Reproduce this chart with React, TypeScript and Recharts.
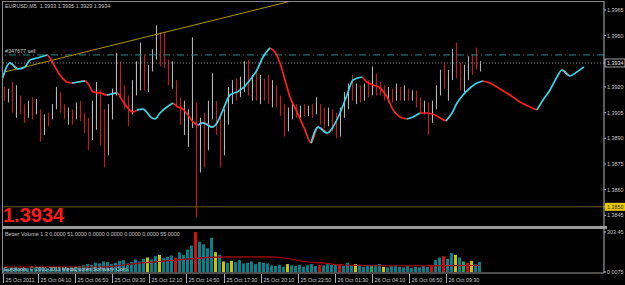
import { ComposedChart, Bar, Line, XAxis, YAxis, ReferenceLine } from 'recharts';

// EURUSD M5 - every candle below stands for ~3-4 real bars of the screenshot
const candleOpen = [
  1.3917, 1.3914, 1.3921, 1.3907, 1.3914, 1.3907, 1.3903, 1.3911, 1.3905, 1.3905,
  1.3893, 1.3903, 1.3902, 1.3909, 1.3915, 1.3909, 1.3902, 1.3905, 1.3903, 1.391,
  1.3903, 1.39, 1.389, 1.3901, 1.3917, 1.3895, 1.3883, 1.3904, 1.3918, 1.3933,
  1.3917, 1.3912, 1.3905, 1.3918, 1.393, 1.3936, 1.3921, 1.3931, 1.3939, 1.395,
  1.3947, 1.3933, 1.3923, 1.3922, 1.3912, 1.39, 1.3886, 1.3901, 1.3908, 1.3883,
  1.3901, 1.3884, 1.3907, 1.391, 1.3898, 1.3883, 1.3901, 1.3915, 1.3923, 1.3915,
  1.3921, 1.3933, 1.3917, 1.3925, 1.3912, 1.3924, 1.3924, 1.3912, 1.3919, 1.3914,
  1.3908, 1.3896, 1.3904, 1.3908, 1.3904, 1.3908, 1.3904, 1.3908, 1.3905, 1.3908,
  1.3907, 1.3898, 1.3905, 1.3904, 1.3894, 1.3905, 1.391, 1.3921, 1.3912, 1.3919,
  1.3914, 1.3921, 1.3917, 1.3925, 1.3919, 1.392, 1.3914, 1.3917, 1.3914, 1.3918,
  1.3915, 1.3918, 1.3915, 1.3917, 1.3912, 1.3905, 1.391, 1.3901, 1.3912, 1.3918,
  1.3931, 1.3915, 1.3925, 1.3942, 1.393, 1.3919, 1.3927, 1.3937, 1.394, 1.3933,
];
const candleHigh = [
  1.392, 1.3919, 1.3923, 1.3921, 1.3915, 1.391, 1.3912, 1.3914, 1.3913, 1.3907,
  1.3904, 1.3905, 1.391, 1.392, 1.3917, 1.391, 1.3908, 1.3907, 1.3911, 1.3912,
  1.3905, 1.3902, 1.3912, 1.3923, 1.3918, 1.3907, 1.391, 1.3919, 1.394, 1.3935,
  1.3921, 1.3915, 1.3924, 1.3935, 1.3946, 1.3939, 1.3933, 1.3942, 1.3956, 1.3952,
  1.3952, 1.3936, 1.3935, 1.3924, 1.3914, 1.3912, 1.3907, 1.3949, 1.3911, 1.3902,
  1.3905, 1.3912, 1.3928, 1.3912, 1.3904, 1.3907, 1.392, 1.3924, 1.3925, 1.3926,
  1.3935, 1.3936, 1.3927, 1.393, 1.3927, 1.3925, 1.3927, 1.3924, 1.3921, 1.3915,
  1.391, 1.3908, 1.3911, 1.391, 1.3909, 1.391, 1.3909, 1.391, 1.3914, 1.391,
  1.3908, 1.3908, 1.3907, 1.3905, 1.3908, 1.3917, 1.3922, 1.3927, 1.3922, 1.3921,
  1.3922, 1.3924, 1.3932, 1.3928, 1.3923, 1.3921, 1.392, 1.3919, 1.3922, 1.392,
  1.3921, 1.3919, 1.3918, 1.3918, 1.3914, 1.3912, 1.3911, 1.3912, 1.3921, 1.393,
  1.3934, 1.393, 1.3942, 1.3946, 1.3934, 1.3933, 1.3938, 1.3939, 1.3943, 1.3935,
];
const candleLow = [
  1.3912, 1.3911, 1.3905, 1.3902, 1.3904, 1.3899, 1.3902, 1.3901, 1.3904, 1.3888,
  1.3892, 1.3897, 1.3901, 1.3907, 1.3905, 1.3901, 1.3898, 1.3898, 1.3901, 1.39,
  1.3893, 1.3883, 1.3889, 1.3895, 1.3886, 1.3873, 1.388, 1.3901, 1.3915, 1.3914,
  1.3907, 1.3897, 1.3904, 1.3915, 1.3918, 1.3918, 1.3917, 1.3929, 1.3936, 1.3932,
  1.3931, 1.3921, 1.3919, 1.3908, 1.3898, 1.3892, 1.3885, 1.3896, 1.3844, 1.387,
  1.3873, 1.3883, 1.3901, 1.3892, 1.3873, 1.388, 1.3898, 1.391, 1.3912, 1.3914,
  1.3917, 1.3915, 1.3912, 1.3912, 1.391, 1.3912, 1.391, 1.3908, 1.3908, 1.3903,
  1.3891, 1.3894, 1.3901, 1.3902, 1.3902, 1.3903, 1.3903, 1.3902, 1.3904, 1.3898,
  1.3896, 1.3897, 1.3894, 1.389, 1.3891, 1.3902, 1.3907, 1.3912, 1.391, 1.3911,
  1.3912, 1.3914, 1.3915, 1.3915, 1.3915, 1.3912, 1.3911, 1.3911, 1.3912, 1.3912,
  1.3912, 1.3912, 1.3912, 1.3908, 1.3905, 1.3904, 1.3892, 1.3899, 1.3907, 1.3915,
  1.3919, 1.3912, 1.3924, 1.3925, 1.3918, 1.3917, 1.3924, 1.3927, 1.393, 1.3929,
];
const candleClose = [
  1.3914, 1.3918, 1.3908, 1.3915, 1.3905, 1.3901, 1.3911, 1.3904, 1.3912, 1.389,
  1.3902, 1.3898, 1.3908, 1.3917, 1.3908, 1.3903, 1.3905, 1.3901, 1.3909, 1.3902,
  1.3896, 1.3886, 1.391, 1.3921, 1.3889, 1.3877, 1.3907, 1.3917, 1.3936, 1.3918,
  1.391, 1.39, 1.3921, 1.3931, 1.3937, 1.3921, 1.393, 1.3939, 1.395, 1.3936,
  1.3933, 1.3924, 1.393, 1.391, 1.3901, 1.3907, 1.3902, 1.3912, 1.3883, 1.3898,
  1.3877, 1.3908, 1.3924, 1.3895, 1.3877, 1.3904, 1.3917, 1.3921, 1.3915, 1.3923,
  1.3931, 1.3918, 1.3924, 1.3915, 1.3924, 1.3915, 1.3914, 1.3921, 1.391, 1.3905,
  1.3895, 1.3905, 1.3908, 1.3904, 1.3907, 1.3904, 1.3907, 1.3904, 1.3911, 1.3901,
  1.3898, 1.3907, 1.3896, 1.3893, 1.3907, 1.3914, 1.392, 1.3915, 1.3919, 1.3912,
  1.3921, 1.3915, 1.3927, 1.3917, 1.3918, 1.3914, 1.3918, 1.3912, 1.3919, 1.3914,
  1.3919, 1.3914, 1.3917, 1.391, 1.3907, 1.3911, 1.3898, 1.391, 1.3918, 1.3927,
  1.3922, 1.3927, 1.3939, 1.3929, 1.3921, 1.393, 1.3936, 1.393, 1.3932, 1.3934,
];

// smoothed trend line, x in candle units; u = cyan (up), d = red (down) per segment
const trendX = [
  -0.5, 1.5, 3.5, 5.25, 6.5, 8.25, 10.75, 11.5, 12.75, 14,
  15.75, 17, 20.25, 21.5, 22.25, 24, 25.75, 28.25, 29.5, 30.75,
  32.25, 33.25, 34.75, 37, 37.75, 39, 40.75, 42.25, 43.5, 44.75,
  46, 47.25, 48.5, 49.75, 52, 53.25, 54.75, 56.5, 58.25, 59.75,
  61.5, 63.25, 64.75, 66.5, 67.75, 69, 70.25, 71.5, 73.25, 75.25,
  76.75, 78.5, 80.75, 82.25, 84, 85.75, 87.25, 89.5, 90.75, 92.25,
  94, 95.75, 97.25, 99, 100.75, 102.25, 104, 105.75, 107.75, 109,
  110.5, 112, 113.25, 114.75, 116.5, 118.25, 119.75, 121.5, 124, 126.5,
  129, 131.5, 133.25, 134.75, 136.5, 138.25, 139.5, 141.5, 143.25, 145,
];
const trendY = [
  1.39241, 1.3934, 1.39305, 1.39317, 1.39358, 1.39369, 1.39387, 1.39369, 1.39317, 1.3927,
  1.39229, 1.39223, 1.39235, 1.392, 1.39171, 1.39165, 1.39153, 1.39165, 1.39124, 1.39083,
  1.39054, 1.39066, 1.39071, 1.39019, 1.39013, 1.39048, 1.39083, 1.39106, 1.39083, 1.39071,
  1.39036, 1.38996, 1.38978, 1.3899, 1.38966, 1.3899, 1.39066, 1.39153, 1.39171, 1.39194,
  1.39241, 1.39299, 1.39375, 1.39428, 1.39404, 1.3934, 1.39241, 1.39142, 1.39054, 1.38949,
  1.38873, 1.38966, 1.38931, 1.38966, 1.39048, 1.39153, 1.39241, 1.39258, 1.39229, 1.39212,
  1.39194, 1.39142, 1.39066, 1.39025, 1.39013, 1.39025, 1.39048, 1.39048, 1.39036, 1.39019,
  1.39001, 1.39048, 1.39106, 1.39153, 1.39194, 1.39223, 1.39235, 1.39223, 1.39188, 1.39153,
  1.39112, 1.39083, 1.39066, 1.39124, 1.39182, 1.39258, 1.39299, 1.39264, 1.39288, 1.39317,
];
const trendSide =
  'uduuuudddd' + 'dudddduddd' + 'duuuuuuddd' + 'dduduuuuuu' + 'uuuddddddd' +
  'uduuuuuddd' + 'dddduudddd' + 'uuuuuudddd' + 'dduuuuduuu';

const trendStart = { i: 0.25, p: 1.39288 };
const trendEnd = { i: 71.5, p: 1.397 };

const priceTicks = [1.3845, 1.385, 1.386, 1.3875, 1.389, 1.3905, 1.392, 1.3934, 1.395, 1.3965];
const stopPrice = 1.385;
const sellPrice = 1.39387;
const sellLabel = '#347677 sell';

const timeLabels = [
  '25 Oct 2011', '25 Oct 04:10', '25 Oct 06:50', '25 Oct 09:30', '25 Oct 12:10',
  '25 Oct 14:50', '25 Oct 17:30', '25 Oct 20:10', '25 Oct 22:50', '26 Oct 01:30',
  '26 Oct 04:10', '26 Oct 06:50', '26 Oct 09:30',
];
const timeTickIdx = [-0.25, 8.5, 17.75, 27, 36.25, 45.5, 55, 64.25, 73.5, 82.75, 92, 101.25, 110.5];

// Better Volume 1.3
const volumeValues = [
  30, 25, 35, 40, 28, 32, 30, 26, 35, 38, 30, 28, 33, 40, 36, 30, 34, 42, 38, 45,
  50, 60, 55, 70, 65, 80, 75, 60, 70, 85, 90, 65, 75, 95, 80, 100, 110, 95, 120, 130,
  105, 115, 125, 110, 150, 130, 170, 200, 303, 230, 210, 180, 260, 150, 130, 80, 70, 85, 75, 90,
  65, 70, 80, 60, 75, 70, 65, 50, 45, 55, 40, 60, 50, 45, 55, 40, 50, 60, 45, 55,
  50, 65, 55, 55, 60, 45, 70, 50, 60, 55, 40, 50, 45, 55, 60, 40, 35, 45, 50, 40,
  35, 45, 30, 40, 35, 45, 40, 50, 90, 110, 120, 100, 145, 130, 110, 80, 70, 85, 60, 75,
];
// n normal, y churn, g low, r climax
const volumeKinds =
  'nnnnnnnnnn' + 'nnnnnnnnnn' + 'nnnnnnnnnn' + 'nnnnnnynny' + 'nnnrnnnnrn' +
  'nnnynynynn' + 'nnnnnnnnnn' + 'nynnnnnnnr' + 'nnnnrnnnyn' + 'nngnnynnnn' +
  'nnnnnnnrnn' + 'rnnyngrynn';
const volMaX = [0, 24, 34, 43, 49, 55, 66, 70, 76, 80, 84, 102, 119];
const volMaV = [38, 38, 68, 91, 106, 114, 114, 106, 76, 68, 53, 46, 50];
const volTicks = [0.0075, 303.45];
const volHeader = 'Better Volume 1.3 0.0000 51.0000 0.0000 0.0000 0.0000 0.0000 55.0000';

const bullColor = '#bdbdbd';
const bearColor = '#d81616';
const kindColor: Record<string, string> = { n: '#0a7f8a', y: '#c8c400', g: '#1fae55', r: '#d41010' };
const font = '"Liberation Sans", Arial, sans-serif';
const small = 5.4;

const candles = candleOpen.map((o, i) => ({
  i,
  o,
  h: candleHigh[i],
  l: candleLow[i],
  c: candleClose[i],
}));

const trendUp = trendX.map((x, j) => {
  const on = trendSide[j] === 'u' || (j > 0 && trendSide[j - 1] === 'u');
  return { i: x, v: on ? trendY[j] : null };
});
const trendDown = trendX.map((x, j) => {
  const on = (j < trendX.length - 1 && trendSide[j] === 'd') || (j > 0 && trendSide[j - 1] === 'd');
  return { i: x, v: on ? trendY[j] : null };
});

const volData = volumeValues.map((v, i) => ({ i, v, kind: volumeKinds[i] }));
const volMa = volMaX.map((x, j) => ({ i: x, v: volMaV[j] }));

const last = candles[candles.length - 1];

const CandleShape = (props: any) => {
  const { x, y, width, height, payload } = props;
  if (!payload || height == null) return null;
  const top = Math.min(y, y + height);
  const h = Math.abs(height);
  const span = payload.h - payload.l || 1;
  const toY = (p: number) => top + ((payload.h - p) / span) * h;
  const yo = toY(payload.o);
  const yc = toY(payload.c);
  const col = payload.c >= payload.o ? bullColor : bearColor;
  const rx = Math.round(x);
  const cx = rx + width / 2;
  return (
    <g>
      <line x1={cx} x2={cx} y1={top} y2={top + h} stroke={col} strokeWidth={1} />
      <rect x={rx} y={Math.min(yo, yc)} width={width} height={Math.max(1, Math.abs(yc - yo))} fill={col} />
    </g>
  );
};

const VolShape = (props: any) => {
  const { x, y, width, height, payload } = props;
  if (!payload) return null;
  return (
    <rect
      x={Math.round(x)}
      y={Math.min(y, y + height)}
      width={width}
      height={Math.abs(height)}
      fill={kindColor[payload.kind] || kindColor.n}
    />
  );
};

const PriceTick = (props: any) => {
  const { x, y, payload } = props;
  const v = payload.value as number;
  const txt = v.toFixed(4);
  if (Math.abs(v - last.c) < 1e-7) {
    return (
      <g>
        <rect x={x - 2} y={y - 4} width={20} height={8} fill="#000" stroke="#c8c8c8" strokeWidth={0.8} />
        <text x={x} y={y + 2} fill="#e6e6e6" fontSize={small} fontFamily={font}>{txt}</text>
      </g>
    );
  }
  if (Math.abs(v - stopPrice) < 1e-7) {
    return (
      <g>
        <rect x={x - 2} y={y - 4} width={20} height={8} fill="#e8c800" />
        <text x={x} y={y + 2} fill="#3a3000" fontSize={small} fontFamily={font}>{txt}</text>
      </g>
    );
  }
  return <text x={x} y={y + 2} fill="#c8c8c8" fontSize={small} fontFamily={font}>{txt}</text>;
};

const VolTick = (props: any) => {
  const { x, y, payload } = props;
  return <text x={x} y={y + 2} fill="#c8c8c8" fontSize={small} fontFamily={font}>{String(payload.value)}</text>;
};

const TimeTick = (props: any) => {
  const { x, y, payload } = props;
  const label = timeLabels[timeTickIdx.indexOf(payload.value)];
  const px = Math.round(x) + 0.5;
  return (
    <g>
      <line x1={px} x2={px} y1={y + 1} y2={y + 10} stroke="#b0b0b0" strokeWidth={1} />
      <text x={px + 2} y={y + 9} fill="#c8c8c8" fontSize={small} fontFamily={font}>{label}</text>
    </g>
  );
};

export default function App() {
  return (
    <div style={{ position: 'absolute', left: 0, top: 0, width: 625, height: 285, background: '#000', overflow: 'hidden' }}>
      {/* price panel */}
      <div style={{ position: 'absolute', left: 0, top: 0 }}>
        <ComposedChart width={625} height={227} data={candles} margin={{ top: 1, right: 0, left: 2, bottom: 1 }}>
          <XAxis dataKey="i" type="number" domain={[-0.5, 150]} allowDataOverflow hide />
          <YAxis
            orientation="right"
            width={21}
            domain={[1.38388, 1.39702]}
            allowDataOverflow
            ticks={priceTicks}
            interval={0}
            tick={PriceTick}
            tickSize={2}
            tickMargin={1}
            axisLine={{ stroke: '#b8b8b8' }}
            tickLine={{ stroke: '#b8b8b8' }}
          />
          <ReferenceLine y={stopPrice} stroke="#6e5c00" strokeWidth={1} />
          <ReferenceLine y={sellPrice} stroke="#2c8c8c" strokeDasharray="7 3 1 3" strokeWidth={1} />
          <ReferenceLine y={last.c} stroke="#8c8c8c" strokeDasharray="1 2" strokeWidth={1} />
          <ReferenceLine
            segment={[{ x: trendStart.i, y: trendStart.p }, { x: trendEnd.i, y: trendEnd.p }]}
            stroke="#b09600"
            strokeWidth={1}
            ifOverflow="visible"
          />
          <Bar dataKey={(d: any) => [d.l, d.h]} barSize={3} shape={CandleShape} isAnimationActive={false} />
          <Line data={trendDown} dataKey="v" type="monotone" stroke="#ff2020" strokeWidth={1.7} dot={false} activeDot={false} isAnimationActive={false} />
          <Line data={trendUp} dataKey="v" type="monotone" stroke="#38d8ea" strokeWidth={1.7} dot={false} activeDot={false} isAnimationActive={false} />
        </ComposedChart>
      </div>

      {/* volume panel */}
      <div style={{ position: 'absolute', left: 0, top: 229 }}>
        <ComposedChart width={625} height={56} data={volData} margin={{ top: 0, right: 0, left: 2, bottom: 0 }}>
          <XAxis
            dataKey="i"
            type="number"
            domain={[-0.5, 150]}
            allowDataOverflow
            ticks={timeTickIdx}
            interval={0}
            height={12}
            tick={TimeTick}
            tickLine={false}
            tickSize={0}
            tickMargin={0}
            axisLine={{ stroke: '#9a9a9a' }}
          />
          <YAxis
            orientation="right"
            width={21}
            domain={[-7.59, 326.2]}
            allowDataOverflow
            ticks={volTicks}
            interval={0}
            tick={VolTick}
            tickSize={2}
            tickMargin={1}
            axisLine={{ stroke: '#b8b8b8' }}
            tickLine={{ stroke: '#b8b8b8' }}
          />
          <Bar dataKey="v" barSize={3} shape={VolShape} isAnimationActive={false} />
          <Line data={volMa} dataKey="v" type="monotone" stroke="#b00000" strokeWidth={1.2} dot={false} activeDot={false} isAnimationActive={false} />
        </ComposedChart>
      </div>

      {/* frame and window texts */}
      <svg width={625} height={285} style={{ position: 'absolute', left: 0, top: 0, pointerEvents: 'none' }}>
        <line x1={2.5} y1={1} x2={2.5} y2={273} stroke="#8c8c8c" />
        <line x1={2} y1={1.5} x2={604} y2={1.5} stroke="#8c8c8c" />
        <rect x={2} y={226} width={605} height={3} fill="#9a9a9a" />
        <text x={5} y={8} fill="#c8c8c8" fontSize={small} fontFamily={font} style={{ whiteSpace: 'pre' }}>
          {`EURUSD,M5  ${last.o.toFixed(4)} ${last.h.toFixed(4)} ${last.l.toFixed(4)} ${last.c.toFixed(4)}`}
        </text>
        <text x={5} y={53} fill="#c8c8c8" fontSize={small} fontFamily={font}>{sellLabel}</text>
        <text x={3} y={222} fill="#ff1a1a" fontSize={20} fontWeight="bold" fontFamily={font}>{last.c.toFixed(4)}</text>
        <text x={5} y={236} fill="#c8c8c8" fontSize={small} fontFamily={font}>{volHeader}</text>
        <text x={4} y={271} fill="#d0d0d0" fontSize={small} fontFamily={font}>Eurotools, © 2001-2011 MetaQuotes Software Corp.</text>
      </svg>
    </div>
  );
}
